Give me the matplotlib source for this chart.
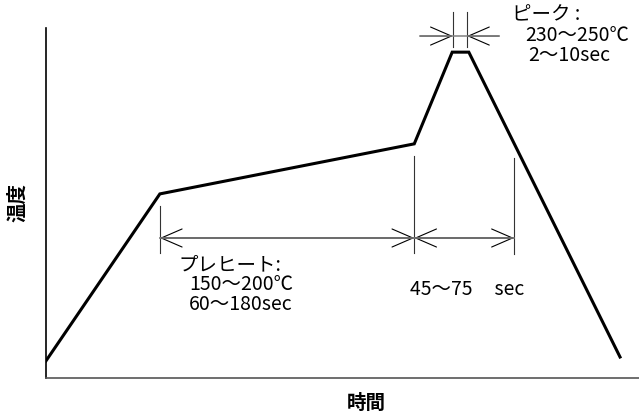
import matplotlib.pyplot as plt

plt.rcParams['font.family'] = ['Noto Sans CJK JP', 'DejaVu Sans']

# reflow profile (arbitrary units, axes run 0..100)
time = [0, 19.2, 62.1, 68.5, 71.3, 96.8]
temp = [4.9, 52.6, 66.9, 93.1, 93.1, 6.0]

# dimension marks
preheat_span = [19.2, 62.1]
reflow_span = [62.1, 78.9]
dim_level = 40.0
peak_span = [68.6, 71.0]
peak_level = 97.7
peak_line = [63.1, 76.4]

# extension lines: x, y_top, y_bottom
ext_lines = [
    (19.2, 49.1, 35.7),
    (62.1, 63.4, 35.7),
    (78.9, 62.9, 35.4),
    (68.6, 104.6, 94.6),
    (71.0, 104.6, 94.6),
]

W, H = 639, 414


def px(x, y):
    return x / W, 1 - y / H


def arrow_head(ax, tip, tail):
    ax.annotate('', xy=tip, xytext=tail,
                arrowprops=dict(arrowstyle='->,head_length=1.5,head_width=0.65',
                                color='black', lw=0.8, shrinkA=0, shrinkB=0,
                                mutation_scale=10),
                annotation_clip=False, zorder=2)


fig = plt.figure(figsize=(W / 100, H / 100), dpi=100)
ax = fig.add_axes([46 / W, 1 - 379 / H, (W - 46) / W, 350 / H])
ax.set_xlim(0, 100)
ax.set_ylim(0, 100)
ax.set_xticks([])
ax.set_yticks([])
ax.spines['top'].set_visible(False)
ax.spines['right'].set_visible(False)
ax.spines['left'].set_color('black')
ax.spines['left'].set_linewidth(1.2)
ax.spines['bottom'].set_color('#555555')
ax.spines['bottom'].set_linewidth(1.2)

ax.plot(time, temp, color='black', lw=2.2, solid_joinstyle='miter', zorder=4)

for x, y0, y1 in ext_lines:
    ax.plot([x, x], [y0, y1], color='#333333', lw=0.8, clip_on=False, zorder=3)

# preheat and reflow dimensions
arrow_head(ax, (preheat_span[0], dim_level), (preheat_span[1], dim_level))
arrow_head(ax, (preheat_span[1], dim_level), (preheat_span[0], dim_level))
arrow_head(ax, (reflow_span[0], dim_level), (reflow_span[1], dim_level))
arrow_head(ax, (reflow_span[1], dim_level), (reflow_span[0], dim_level))
ax.plot([preheat_span[0], reflow_span[1]], [dim_level, dim_level],
        color='#808080', lw=1.1, zorder=3)

# peak dimension
arrow_head(ax, (peak_span[0], peak_level), (peak_line[0], peak_level))
arrow_head(ax, (peak_span[1], peak_level), (peak_line[1], peak_level))
ax.plot(peak_line, [peak_level, peak_level], color='#808080', lw=1.1,
        clip_on=False, zorder=3)

fs = 14
fig.text(*px(512, 15), 'ピーク :', fontsize=fs, va='center', ha='left')
fig.text(*px(525, 36), '230～250℃', fontsize=fs, va='center', ha='left')
fig.text(*px(528, 56), '2～10sec', fontsize=fs, va='center', ha='left')

fig.text(*px(178, 265), 'プレヒート:', fontsize=fs, va='center', ha='left')
fig.text(*px(189, 285), '150～200℃', fontsize=fs, va='center', ha='left')
fig.text(*px(189, 305), '60～180sec', fontsize=fs, va='center', ha='left')

fig.text(*px(410, 290), '45～75     sec', fontsize=fs, va='center', ha='left')

fig.text(*px(366, 403), '時間', fontsize=14, fontweight='bold',
         va='center', ha='center')
fig.text(*px(18, 203), '温度', fontsize=14, fontweight='bold',
         va='center', ha='center', rotation=90)

fig.savefig('out.png', dpi=100)
